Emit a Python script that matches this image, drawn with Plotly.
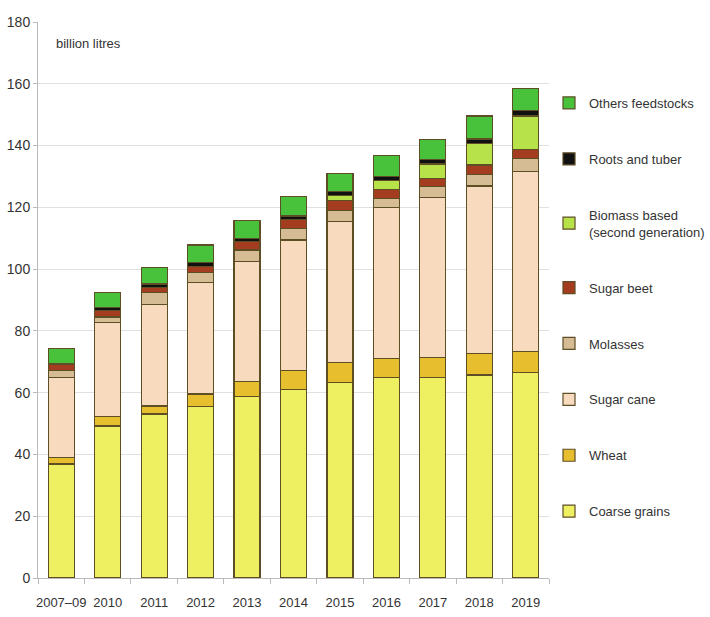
import plotly.graph_objects as go

years = ["2007–09", "2010", "2011", "2012", "2013", "2014", "2015", "2016", "2017", "2018", "2019"]

coarse_grains = [36.9, 49.2, 53.1, 55.5, 58.7, 61.1, 63.2, 64.9, 64.9, 65.7, 66.5]
wheat = [2.0, 3.0, 2.6, 4.1, 4.8, 6.2, 6.5, 6.2, 6.5, 7.0, 6.8]
sugar_cane = [26.1, 30.4, 32.9, 36.0, 38.9, 42.1, 45.7, 48.8, 51.8, 54.2, 58.2]
molasses = [2.1, 1.9, 3.8, 3.4, 3.8, 3.8, 3.7, 3.0, 3.5, 3.8, 4.4]
sugar_beet = [2.2, 2.2, 1.7, 1.8, 2.7, 2.9, 3.0, 2.9, 2.7, 3.0, 2.9]
biomass = [0.0, 0.0, 0.0, 0.0, 0.0, 0.0, 1.7, 2.8, 4.6, 7.0, 10.8]
roots_tuber = [0.2, 0.9, 1.1, 1.3, 1.1, 1.1, 1.3, 1.5, 1.6, 1.4, 1.7]
others = [4.8, 4.8, 5.4, 5.7, 5.7, 6.2, 5.9, 6.8, 6.4, 7.5, 7.1]

series = [
    ("Coarse grains", coarse_grains, "#EEF061"),
    ("Wheat", wheat, "#E6BE2E"),
    ("Sugar cane", sugar_cane, "#F8DABE"),
    ("Molasses", molasses, "#D6BC94"),
    ("Sugar beet", sugar_beet, "#A43D1F"),
    ("Biomass based<br>(second generation)", biomass, "#B8E24A"),
    ("Roots and tuber", roots_tuber, "#111111"),
    ("Others feedstocks", others, "#49C23B"),
]

FONT = "Liberation Sans, Arial, sans-serif"

fig = go.Figure()
n = len(series)
for i, (name, vals, col) in enumerate(series):
    fig.add_trace(go.Bar(
        x=years, y=vals, name=name, legendgroup=f"g{i}", legendrank=n - i,
        marker=dict(color=col, line=dict(color="#5E4E26", width=1.2)),
    ))

fig.update_layout(
    width=710, height=617,
    barmode="stack", bargap=0.44,
    plot_bgcolor="white", paper_bgcolor="white",
    margin=dict(l=38, r=143, t=22, b=39),
    font=dict(family=FONT, size=13, color="#333333"),
    showlegend=True,
    legend=dict(
        xref="container", yref="container",
        x=549 / 710, y=1 - 88 / 617, xanchor="left", yanchor="top",
        traceorder="grouped", tracegroupgap=36, maxheight=560,
        font=dict(family=FONT, size=13, color="#333333"),
        itemwidth=30, bgcolor="rgba(0,0,0,0)",
    ),
    annotations=[dict(
        text="billion litres", x=0.032, y=0.962, xref="paper", yref="paper",
        xanchor="left", yanchor="middle", showarrow=False,
        font=dict(family=FONT, size=13, color="#333333"),
    )],
)
fig.update_yaxes(
    range=[0, 180], dtick=20, showgrid=True, gridcolor="#E0E0E0", gridwidth=1,
    showline=True, linecolor="#BBBBBB", linewidth=1, ticks="outside",
    ticklen=4, tickcolor="#BBBBBB", zeroline=False, automargin=False,
    tickfont=dict(family=FONT, size=14, color="#333333"),
)
fig.update_xaxes(
    showline=True, linecolor="#BBBBBB", linewidth=1, ticks="outside",
    tickson="boundaries", ticklen=5, tickcolor="#BBBBBB", tickangle=0,
    automargin=False, ticklabelstandoff=12,
    tickfont=dict(family=FONT, size=13, color="#333333"),
)

fig.write_html("out.html")
